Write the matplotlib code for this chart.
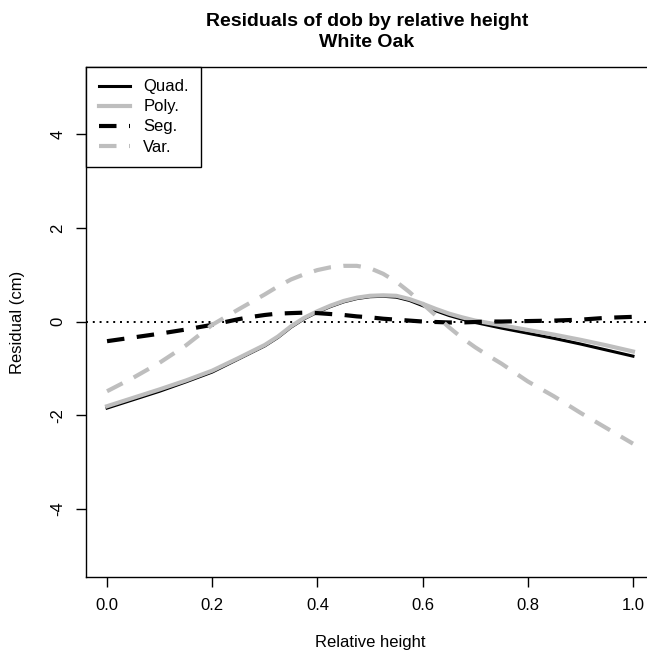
import numpy as np
import matplotlib
matplotlib.use("Agg")
import matplotlib.pyplot as plt

plt.rcParams.update({"font.family": ["Liberation Sans", "DejaVu Sans"], "font.size": 12})

# Valores (residuo en cm según altura relativa)
rel_height = [0.00, 0.05, 0.10, 0.15, 0.20, 0.25, 0.275, 0.30, 0.325, 0.35, 0.375,
              0.40, 0.425, 0.45, 0.475, 0.50, 0.525, 0.55, 0.575, 0.60, 0.625,
              0.65, 0.675, 0.70, 0.725, 0.75, 0.80, 0.85, 0.90, 0.95, 1.00]
quad = [-1.85, -1.67, -1.49, -1.29, -1.08, -0.80, -0.66, -0.52, -0.34, -0.12, 0.06,
        0.20, 0.32, 0.42, 0.49, 0.53, 0.54, 0.52, 0.45, 0.34, 0.23,
        0.13, 0.05, -0.02, -0.08, -0.14, -0.25, -0.36, -0.48, -0.61, -0.74]
poly = [-1.81, -1.63, -1.45, -1.26, -1.05, -0.78, -0.64, -0.50, -0.32, -0.10, 0.08,
        0.22, 0.34, 0.44, 0.51, 0.55, 0.56, 0.55, 0.48, 0.38, 0.27,
        0.17, 0.09, 0.02, -0.03, -0.08, -0.18, -0.28, -0.39, -0.51, -0.64]
seg = [-0.42, -0.34, -0.26, -0.17, -0.07, 0.05, 0.10, 0.14, 0.17, 0.18, 0.19,
       0.18, 0.16, 0.14, 0.11, 0.09, 0.06, 0.04, 0.02, 0.00, -0.01,
       -0.02, -0.02, -0.01, 0.00, 0.00, 0.01, 0.02, 0.04, 0.08, 0.10]
var = [-1.49, -1.20, -0.88, -0.51, -0.07, 0.26, 0.42, 0.58, 0.75, 0.90, 1.01,
       1.10, 1.16, 1.19, 1.19, 1.14, 1.02, 0.85, 0.63, 0.38, 0.13,
       -0.12, -0.35, -0.55, -0.73, -0.90, -1.28, -1.60, -1.95, -2.28, -2.61]

fig = plt.figure(figsize=(6.47, 6.56), dpi=100)
ax = fig.add_axes([86 / 647, 79 / 656, 568 / 647, 510 / 656])

dash = (0, (4.2, 3))
ax.axhline(0, color="black", lw=1.4, ls=(0, (1, 2.5)))
ax.plot(rel_height, quad, color="black", lw=2.2, label="Quad.")
ax.plot(rel_height, poly, color="#bebebe", lw=3, label="Poly.")
ax.plot(rel_height, seg, color="black", lw=3, ls=dash, label="Seg.")
ax.plot(rel_height, var, color="#bebebe", lw=3, ls=dash, label="Var.")

ax.set_xlim(-0.04, 1.04)
ax.set_ylim(-5.46, 5.44)
ax.set_xticks([0.0, 0.2, 0.4, 0.6, 0.8, 1.0])
ax.set_xticklabels(["0.0", "0.2", "0.4", "0.6", "0.8", "1.0"])
ax.set_yticks([-4, -2, 0, 2, 4])
ax.set_yticklabels(["-4", "-2", "0", "2", "4"], rotation=90, va="center")
ax.tick_params(length=7, width=1, pad=8)
for s in ax.spines.values():
    s.set_linewidth(1)

ax.set_xlabel("Relative height", labelpad=16)
ax.set_ylabel("Residual (cm)", labelpad=18)
fig.text(367 / 647, 1 - 32 / 656, "Residuals of dob by relative height\nWhite Oak",
         fontweight="bold", fontsize=14, ha="center", va="center", linespacing=1.3)

leg = ax.legend(loc="upper left", borderaxespad=0, fancybox=False, framealpha=1,
                edgecolor="black", handlelength=1.9, labelspacing=0.3,
                handletextpad=0.78, borderpad=0.75, fontsize=12)
leg.get_frame().set_linewidth(1)

fig.savefig("out.png", dpi=100)
